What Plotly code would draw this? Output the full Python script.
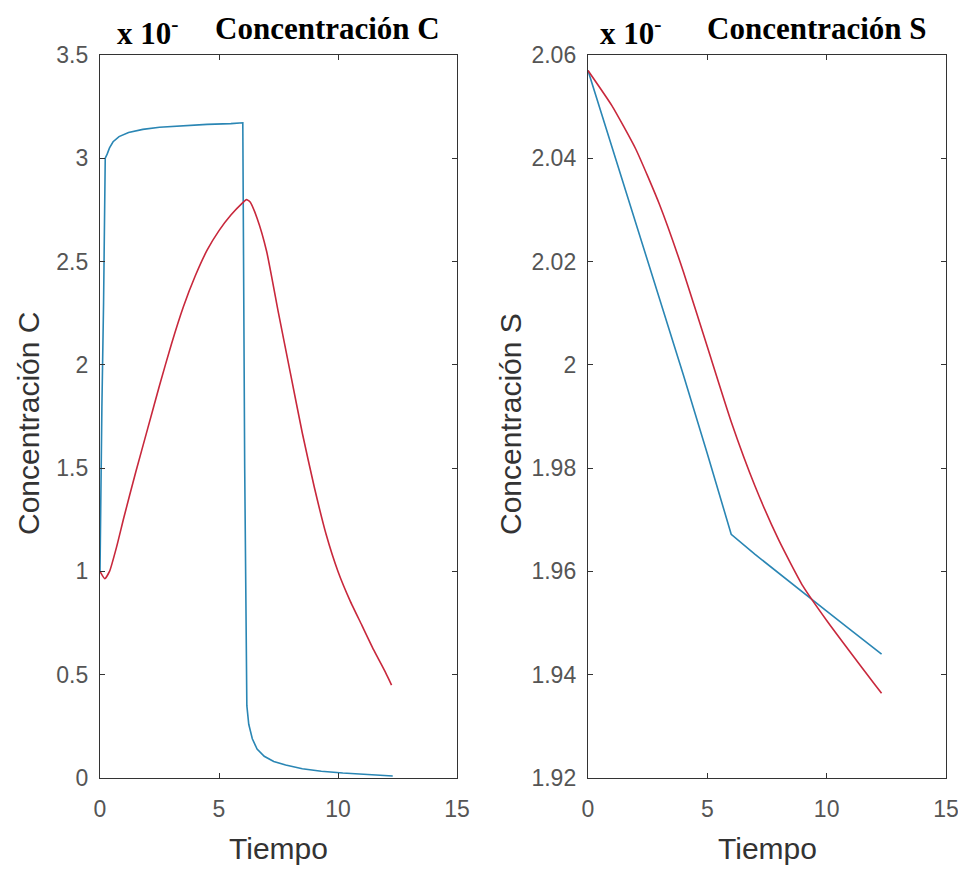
import plotly.graph_objects as go

# ---------------- data ----------------
# Left panel: Concentración C
t_c_blue = [0, 0.02, 0.08, 0.15, 0.2, 0.22, 0.3, 0.4, 0.55, 0.8, 1.2, 1.8, 2.5, 3.5, 4.5,
            5.5, 6.0, 6.08, 6.17, 6.25, 6.4, 6.6, 6.9, 7.3, 7.8, 8.5, 9.3, 10.2, 11.2, 12.3]
c_blue = [1.0, 1.3, 1.8, 2.3, 2.7, 3.0, 3.02, 3.05, 3.08, 3.105, 3.125, 3.14, 3.15, 3.158, 3.164,
          3.168, 3.172, 1.5, 0.35, 0.26, 0.19, 0.14, 0.105, 0.08, 0.063, 0.045, 0.033, 0.024, 0.016, 0.01]

t_c_red = [0, 0.2, 0.4, 0.7, 1.0, 1.5, 2.0, 2.5, 3.0, 3.5, 4.0, 4.5, 5.0, 5.5, 6.0, 6.15,
           6.3, 6.6, 7.0, 7.5, 8.0, 8.5, 9.0, 9.5, 10.0, 10.5, 11.0, 11.5, 12.0, 12.25]
c_red = [1.0, 0.965, 1.0, 1.12, 1.26, 1.48, 1.69, 1.90, 2.10, 2.28, 2.43, 2.555, 2.65, 2.725, 2.785, 2.80,
         2.79, 2.71, 2.55, 2.25, 1.96, 1.67, 1.41, 1.18, 1.00, 0.86, 0.74, 0.62, 0.51, 0.45]

# Right panel: Concentración S
t_s_blue = [0, 1, 2, 3, 4, 5, 6.0, 7, 8, 9, 10, 11, 12.3]
s_blue = [2.057, 2.0423, 2.0276, 2.0128, 1.998, 1.9828, 1.9672, 1.9633, 1.9596, 1.956, 1.9523, 1.9487, 1.944]

t_s_red = [0, 1, 2, 3, 4, 5, 6, 7, 8, 9, 10, 11, 12, 12.3]
s_red = [2.057, 2.0502, 2.0418, 2.031, 2.018, 2.0035, 1.989, 1.9765, 1.966, 1.9572, 1.9505, 1.9443, 1.9382, 1.9364]

x_ticks = [0, 5, 10, 15]
yc_ticks = [0, 0.5, 1, 1.5, 2, 2.5, 3, 3.5]
yc_labels = ["0", "0.5", "1", "1.5", "2", "2.5", "3", "3.5"]
ys_ticks = [1.92, 1.94, 1.96, 1.98, 2.0, 2.02, 2.04, 2.06]
ys_labels = ["1.92", "1.94", "1.96", "1.98", "2", "2.02", "2.04", "2.06"]

BLUE = "#2a86b4"
RED = "#c8283c"

# The page body has an 8px margin at top/left; the figure fills the rest of the 966x870 window.
OFF = 8
W, H = 966 - OFF, 870 - OFF


def px(x):
    return (x - OFF) / W


def py(y):
    return 1 - (y - OFF) / H


fig = go.Figure()
fig.add_trace(go.Scatter(x=t_c_blue, y=c_blue, mode="lines", line=dict(color=BLUE, width=1.6),
                         xaxis="x", yaxis="y"))
fig.add_trace(go.Scatter(x=t_c_red, y=c_red, mode="lines",
                         line=dict(color=RED, width=1.6, shape="spline", smoothing=0.5),
                         xaxis="x", yaxis="y"))
fig.add_trace(go.Scatter(x=t_s_blue, y=s_blue, mode="lines", line=dict(color=BLUE, width=1.6),
                         xaxis="x2", yaxis="y2"))
fig.add_trace(go.Scatter(x=t_s_red, y=s_red, mode="lines",
                         line=dict(color=RED, width=1.6, shape="spline", smoothing=0.5),
                         xaxis="x2", yaxis="y2"))

tickfont = dict(family="Arial, Liberation Sans", size=23, color="#555555")
common = dict(showline=True, linecolor="#333333", linewidth=1.4, mirror="ticks", ticks="inside",
              ticklen=5, tickcolor="#333333", tickwidth=1.2, showgrid=False, zeroline=False,
              tickfont=tickfont, automargin=False)

ybot = py(778)
ytop = py(55)

fig.update_layout(
    width=W, height=H,
    margin=dict(l=0, r=0, t=0, b=0, pad=0, autoexpand=False),
    paper_bgcolor="white", plot_bgcolor="white",
    showlegend=False,
    xaxis=dict(domain=[px(100), px(457)], range=[0, 15], tickvals=x_ticks, anchor="y",
               ticklabelstandoff=10, **common),
    yaxis=dict(domain=[ybot, ytop], range=[0, 3.5], tickvals=yc_ticks, ticktext=yc_labels,
               anchor="x", ticklabelstandoff=6, **common),
    xaxis2=dict(domain=[px(588), px(946)], range=[0, 15], tickvals=x_ticks, anchor="y2",
                ticklabelstandoff=10, **common),
    yaxis2=dict(domain=[ybot, ytop], range=[1.92, 2.06], tickvals=ys_ticks, ticktext=ys_labels,
                anchor="x2", ticklabelstandoff=6, **common),
)

title_font = dict(family="Liberation Serif, Times New Roman", size=31, color="black")
label_font = dict(family="Arial, Liberation Sans", size=30, color="#333333")

annotations = [
    dict(text="<b>x 10<sup>-</sup></b>", x=px(115), y=py(32), xanchor="left", yanchor="middle", font=title_font),
    dict(text="<b>Concentración C</b>", x=px(213), y=py(28), xanchor="left", yanchor="middle", font=title_font),
    dict(text="<b>x 10<sup>-</sup></b>", x=px(598), y=py(32), xanchor="left", yanchor="middle", font=title_font),
    dict(text="<b>Concentración S</b>", x=px(705), y=py(28), xanchor="left", yanchor="middle", font=title_font),
    dict(text="Tiempo", x=px(278.5), y=py(848), xanchor="center", yanchor="middle", font=label_font),
    dict(text="Tiempo", x=px(767), y=py(848), xanchor="center", yanchor="middle", font=label_font),
    dict(text="Concentración C", x=px(28), y=py(424), xanchor="center", yanchor="middle", textangle=-90, font=label_font),
    dict(text="Concentración S", x=px(510), y=py(424), xanchor="center", yanchor="middle", textangle=-90, font=label_font),
]
for a in annotations:
    a.update(xref="paper", yref="paper", showarrow=False)
fig.update_layout(annotations=annotations)

fig.write_html("out.html")
